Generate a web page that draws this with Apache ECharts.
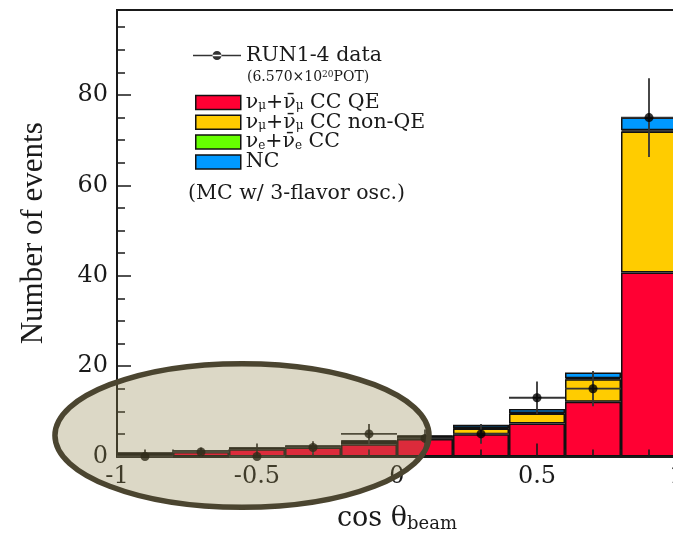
<!DOCTYPE html>
<html>
<head>
<meta charset="utf-8">
<script src="https://cdn.jsdelivr.net/npm/echarts@6/dist/echarts.min.js"></script>
<style>
html,body{margin:0;padding:0;background:#fff;}
#main{width:673px;height:539px;}
</style>
</head>
<body>
<div id="main"></div>
<script>
// ---- data ----
const binLabels = ['-1~-0.8','-0.8~-0.6','-0.6~-0.4','-0.4~-0.2','-0.2~0','0~0.2','0.2~0.4','0.4~0.6','0.6~0.8','0.8~1'];
const binCenters = [-0.9,-0.7,-0.5,-0.3,-0.1,0.1,0.3,0.5,0.7,0.9];
const binHalfWidth = 0.1;
const ccqe    = [0.6, 1.0, 1.6, 2.0, 2.7, 3.9, 4.9, 7.3, 12.1, 40.7];
const ccnonqe = [0.1, 0.15, 0.2, 0.2, 0.6, 0.5, 1.3, 2.2, 5.0, 31.2];
const nueCC   = [0.02, 0.03, 0.05, 0.05, 0.1, 0.1, 0.1, 0.15, 0.2, 0.3];
const ncVals  = [0.05, 0.05, 0.05, 0.1, 0.1, 0.1, 0.7, 0.85, 1.3, 2.8];
const dataCounts = [0, 1, 0, 2, 5, 4, 5, 13, 15, 75];
const dataErrors = [0, 1, 0, 1.4, 2.2, 2.0, 2.2, 3.6, 3.9, 8.7];
const yTicks = [0, 20, 40, 60, 80];
const xTicks = [-1, -0.5, 0, 0.5, 1];

const seriesNames = ['νμ+ν̄μ CC QE', 'νμ+ν̄μ CC non-QE', 'νe+ν̄e CC', 'NC'];
const colors = ['#ff0033', '#ffcc00', '#66ff00', '#0099ff'];
const stacks = [ccqe, ccnonqe, nueCC, ncVals];

const chart = echarts.init(document.getElementById('main'));
const FONT = 'DejaVu Serif';
const ink = '#1a1a1a';

const barSeries = stacks.map((vals, i) => ({
  name: seriesNames[i],
  type: 'bar',
  stack: 'mc',
  xAxisIndex: 1,
  yAxisIndex: 0,
  barCategoryGap: '0%',
  data: vals,
  itemStyle: {color: colors[i], borderColor: '#111', borderWidth: 1.5},
  emphasis: {disabled: true},
  z: 1
}));

const legendFmt = {
  'νμ+ν̄μ CC QE': 'ν{s|μ}+ν̄{s|μ} CC QE',
  'νμ+ν̄μ CC non-QE': 'ν{s|μ}+ν̄{s|μ} CC non-QE',
  'νe+ν̄e CC': 'ν{s|e}+ν̄{s|e} CC',
  'NC': 'NC'
};

const option = {
  backgroundColor: '#fff',
  animation: false,
  grid: {left: 117, top: 10, width: 560, height: 446.5, show: true, borderColor: ink, borderWidth: 2,
         backgroundColor: 'transparent', outerBoundsMode: 'none', containLabel: false},
  xAxis: [
    {type: 'value', position: 'bottom', z: 10, min: -1, max: 1, interval: 0.5,
     axisLine: {show: true, onZero: false, lineStyle: {color: ink, width: 2}},
     axisTick: {show: true, inside: true, length: 13, lineStyle: {color: ink, width: 1.6}},
     minorTick: {show: true, splitNumber: 5, length: 7, lineStyle: {color: ink, width: 1.6}},
     axisLabel: {margin: 8, fontFamily: FONT, fontSize: 24, color: ink, hideOverlap: false,
       formatter: v => (xTicks.some(t => Math.abs(t - v) < 1e-9) ? String(v) : '')},
     splitLine: {show: false},
     name: 'cos θ{b|beam}', nameLocation: 'middle', nameGap: 47,
     nameTextStyle: {fontFamily: FONT, fontSize: 27, color: ink,
       rich: {b: {fontFamily: FONT, fontSize: 18, color: ink, verticalAlign: 'bottom', padding: [12, 0, 0, 0]}}}},
    {type: 'category', position: 'bottom', data: binLabels, show: false, boundaryGap: true, axisLine: {onZero: false}}
  ],
  yAxis: [
    {type: 'value', position: 'left', z: 10, min: 0, max: 98.8, interval: 20,
     axisLine: {show: true, onZero: false, lineStyle: {color: ink, width: 2}},
     axisTick: {show: true, inside: true, length: 14, lineStyle: {color: ink, width: 1.5}},
     axisLabel: {margin: 9, fontFamily: FONT, fontSize: 24, color: ink,
       formatter: v => (yTicks.indexOf(v) >= 0 ? String(v) : '')},
     splitLine: {show: false},
     name: 'Number of events', nameLocation: 'middle', nameGap: 68,
     nameTextStyle: {fontFamily: 'Liberation Serif', fontSize: 31, color: ink}},
    {type: 'value', position: 'left', z: 10, offset: 0, min: 0, max: 98.8, interval: 5,
     axisLine: {show: false, onZero: false}, axisLabel: {show: false}, splitLine: {show: false},
     axisTick: {show: true, inside: true, length: 8, lineStyle: {color: ink, width: 1.5}}}
  ],
  legend: [
    {data: [{name: 'RUN1-4 data', icon: 'path://M0,8.2 H48 V9.8 H0 Z M19.5,9 A4.5,4.5 0 1 0 28.5,9 A4.5,4.5 0 1 0 19.5,9 Z'}],
     left: 188, top: 40, itemWidth: 48, itemHeight: 18, itemGap: 0,
     textStyle: {fontFamily: FONT, fontSize: 20.5, color: ink}, selectedMode: false},
    {data: seriesNames, orient: 'vertical', left: 190, top: 87, itemWidth: 45, itemHeight: 14, itemGap: -1.2,
     icon: 'rect', selectedMode: false,
     itemStyle: {borderColor: '#111', borderWidth: 1.5},
     formatter: n => legendFmt[n],
     textStyle: {fontFamily: FONT, fontSize: 20.5, color: ink, lineHeight: 19,
       rich: {s: {fontFamily: FONT, fontSize: 12, color: ink, verticalAlign: 'bottom', lineHeight: 12}}}}
  ],
  series: barSeries.concat([
    {
      name: 'data errors', type: 'custom', xAxisIndex: 0, yAxisIndex: 0, z: 11,
      data: binCenters.map((c, i) => [c, dataCounts[i], dataErrors[i]]),
      renderItem: function (params, api) {
        const x = api.value(0), y = api.value(1), e = api.value(2);
        const pL = api.coord([x - binHalfWidth, y]);
        const pR = api.coord([x + binHalfWidth, y]);
        const children = [{type: 'line', shape: {x1: pL[0], y1: pL[1], x2: pR[0], y2: pR[1]},
          style: {stroke: '#333', lineWidth: 1.8}}];
        if (e > 0) {
          const pT = api.coord([x, y + e]);
          const pB = api.coord([x, y - e]);
          children.push({type: 'line', shape: {x1: pT[0], y1: pT[1], x2: pB[0], y2: pB[1]},
            style: {stroke: '#333', lineWidth: 1.8}});
        }
        return {type: 'group', children: children};
      }
    },
    {
      name: 'RUN1-4 data', type: 'scatter', xAxisIndex: 0, yAxisIndex: 0, z: 12,
      symbol: 'circle', symbolSize: 9,
      itemStyle: {color: '#000'},
      data: binCenters.map((c, i) => [c, dataCounts[i]])
    }
  ])
};
chart.setOption(option);

// annotation ellipse (in data coordinates)
const ellCenter = [-0.5536, 4.65];
const ellRadius = [0.668, 15.9];
const pc = chart.convertToPixel({xAxisIndex: 0, yAxisIndex: 0}, ellCenter);
const pe = chart.convertToPixel({xAxisIndex: 0, yAxisIndex: 0}, [ellCenter[0] + ellRadius[0], ellCenter[1] + ellRadius[1]]);
chart.setOption({
  graphic: [
    {type: 'ellipse', z: 100, silent: true,
     shape: {cx: pc[0], cy: pc[1], rx: Math.abs(pe[0] - pc[0]), ry: Math.abs(pc[1] - pe[1])},
     style: {fill: 'rgba(145,135,79,0.32)', stroke: '#4b4530', lineWidth: 5.5}},
    {type: 'text', left: 247, top: 70, silent: true,
     style: {text: '(6.570×10{u|20}POT)', fontFamily: FONT, fontSize: 14, fill: ink,
       rich: {u: {fontFamily: FONT, fontSize: 9, fill: ink, verticalAlign: 'top'}}}},
    {type: 'text', left: 188, top: 183, silent: true,
     style: {text: '(MC w/ 3-flavor osc.)', fontFamily: FONT, fontSize: 20.5, fill: ink}}
  ]
});
</script>
</body>
</html>
